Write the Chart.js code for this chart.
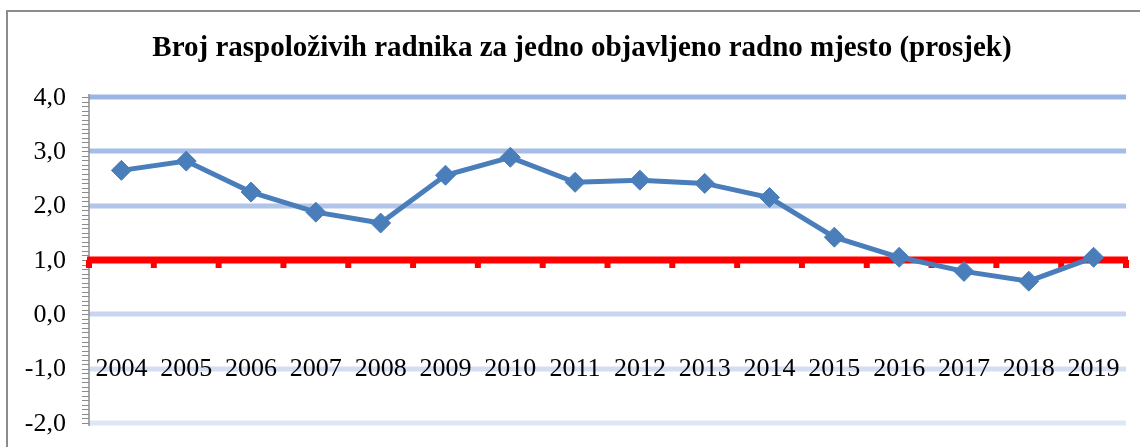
<!DOCTYPE html>
<html>
<head>
<meta charset="utf-8">
<script src="https://cdn.jsdelivr.net/npm/chart.js@4"></script>
<style>
  html, body { margin: 0; padding: 0; background: #fff; }
  #wrap { width: 1140px; height: 447px; position: relative; }
</style>
</head>
<body>
<div id="wrap"><canvas id="radniciChart"></canvas></div>
<script>
const titleText = 'Broj raspoloživih radnika za jedno objavljeno radno mjesto (prosjek)';
const godine = ['2004', '2005', '2006', '2007', '2008', '2009', '2010', '2011',
                '2012', '2013', '2014', '2015', '2016', '2017', '2018', '2019'];
const prosjek = [2.65, 2.82, 2.25, 1.88, 1.68, 2.56, 2.89, 2.43,
                 2.47, 2.41, 2.15, 1.42, 1.05, 0.79, 0.61, 1.05];
const yTicks = [4, 3, 2, 1, 0, -1, -2];
const crossAt = 1;      // category axis crosses here (red)
const labelsAt = -1;    // where the year labels sit

const serif = '"Liberation Serif", "Times New Roman", serif';

// background, grid, axes, labels drawn by hand (Excel look)
const excelLook = {
    id: 'excelLook',
    beforeDatasetsDraw(chart) {
        const ctx = chart.ctx;
        const x = chart.scales.x;
        const y = chart.scales.y;
        const area = chart.chartArea;
        ctx.save();

        // outer frame
        ctx.strokeStyle = '#8c8c8c';
        ctx.lineWidth = 2;
        ctx.beginPath();
        ctx.moveTo(7, 447);
        ctx.lineTo(7, 11);
        ctx.lineTo(1141, 11);
        ctx.stroke();

        // title
        ctx.fillStyle = '#000';
        ctx.font = 'bold 29px ' + serif;
        ctx.textAlign = 'center';
        ctx.textBaseline = 'middle';
        ctx.fillText(titleText, 582, 49);

        // gridlines
        const grad = ctx.createLinearGradient(0, area.top, 0, area.bottom);
        grad.addColorStop(0, '#9ab5e3');
        grad.addColorStop(1, '#dfe6f5');
        ctx.strokeStyle = grad;
        ctx.lineWidth = 5;
        yTicks.forEach(v => {
            if (v === crossAt) return;
            const py = Math.round(y.getPixelForValue(v));
            ctx.beginPath();
            ctx.moveTo(area.left, py);
            ctx.lineTo(area.right, py);
            ctx.stroke();
        });

        // y axis line + minor ticks
        ctx.strokeStyle = '#8c8c8c';
        ctx.lineWidth = 1.5;
        ctx.beginPath();
        ctx.moveTo(area.left, area.top - 3);
        ctx.lineTo(area.left, area.bottom + 3);
        ctx.stroke();
        ctx.lineWidth = 1;
        for (let v = -2; v <= 4.0001; v += 1 / 12) {
            const py = Math.round(y.getPixelForValue(v)) + 0.5;
            ctx.beginPath();
            ctx.moveTo(area.left - 7, py);
            ctx.lineTo(area.left, py);
            ctx.stroke();
        }

        // y labels
        ctx.fillStyle = '#000';
        ctx.font = '26px ' + serif;
        ctx.textAlign = 'right';
        ctx.textBaseline = 'middle';
        yTicks.forEach(v => {
            ctx.fillText(v.toFixed(1).replace('.', ','), 66, y.getPixelForValue(v) + 1);
        });

        // category labels
        ctx.font = '26px ' + serif;
        ctx.textAlign = 'center';
        const ly = y.getPixelForValue(labelsAt);
        godine.forEach((g, i) => {
            ctx.fillText(g, x.getPixelForValue(i), ly + 1);
        });

        // red category axis with tick marks
        const ry = y.getPixelForValue(crossAt);
        ctx.strokeStyle = '#ff0000';
        ctx.lineWidth = 7;
        ctx.beginPath();
        ctx.moveTo(area.left - 2, ry);
        ctx.lineTo(area.right + 2, ry);
        ctx.stroke();
        ctx.fillStyle = '#ff0000';
        const step = (area.right - area.left) / godine.length;
        for (let i = 0; i <= godine.length; i++) {
            const px = area.left + i * step;
            ctx.fillRect(px - 3, ry, 6, 8);
        }
        ctx.restore();
    }
};

const data = {
    labels: godine,
    datasets: [{
        label: 'Prosjek',
        data: prosjek,
        borderColor: '#4a7ebb',
        backgroundColor: '#4a7ebb',
        borderWidth: 5,
        pointStyle: 'rectRot',
        pointRadius: 10,
        pointHoverRadius: 10,
        pointBorderWidth: 1,
        tension: 0
    }]
};

const config = {
    type: 'line',
    data: data,
    options: {
        responsive: false,
        animation: false,
        layout: { padding: { left: 89, right: 14, top: 97, bottom: 24 } },
        plugins: {
            legend: { display: false },
            title: { display: false },
            tooltip: { enabled: false }
        },
        scales: {
            x: { type: 'category', offset: true, display: false },
            y: { min: -2, max: 4, display: false }
        }
    },
    plugins: [excelLook]
};

const canvas = document.getElementById('radniciChart');
canvas.width = 1140;
canvas.height = 447;
const radniciChart = new Chart(canvas, config);
</script>
</body>
</html>
